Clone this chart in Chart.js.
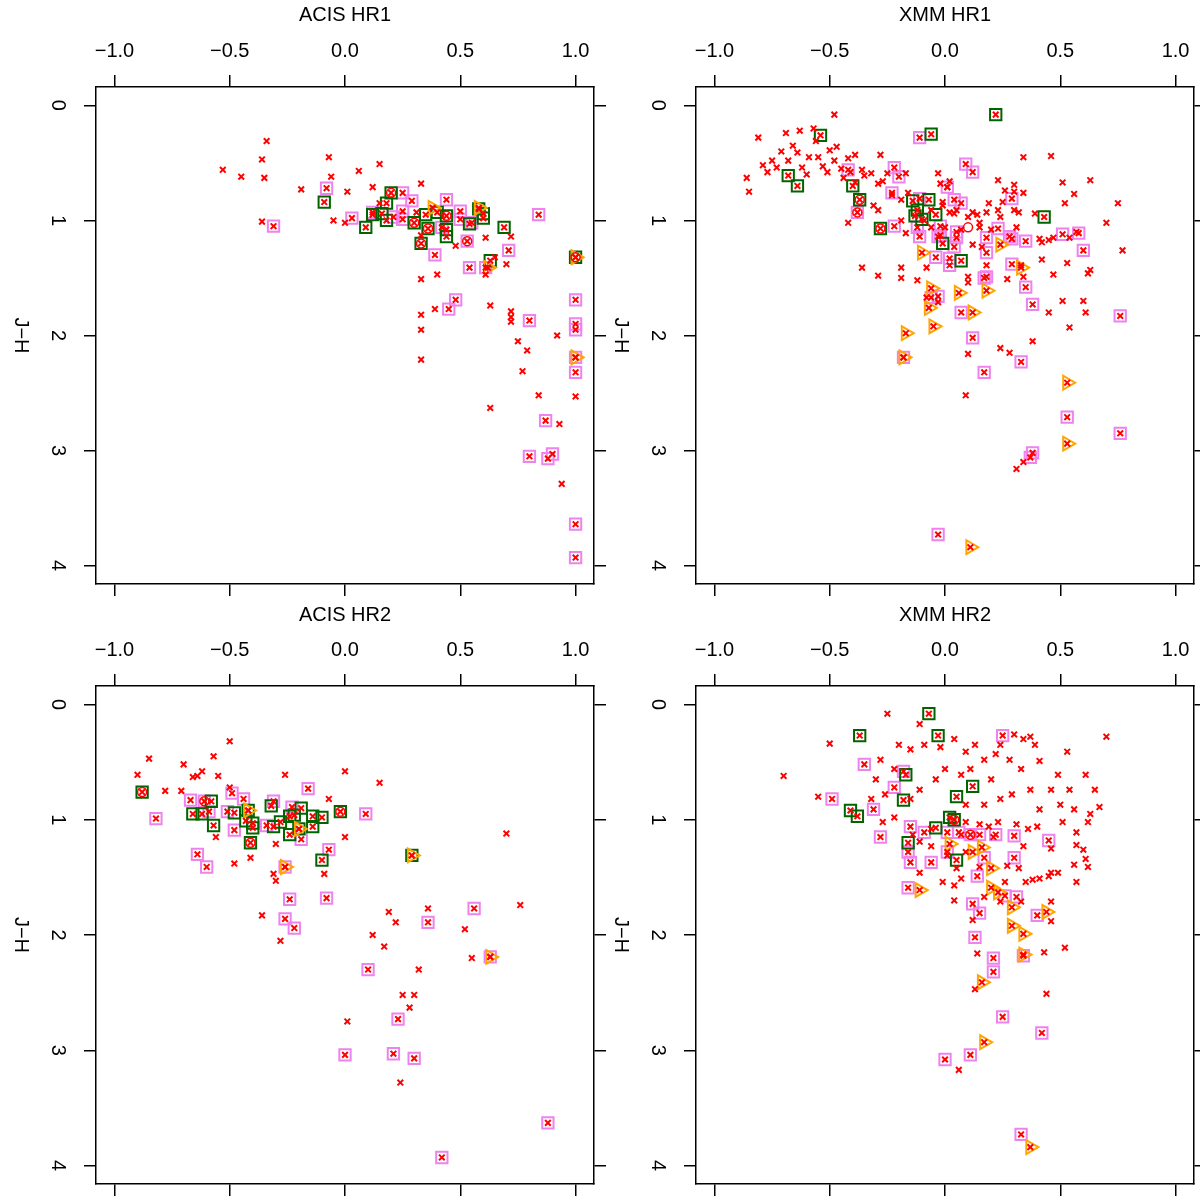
<!DOCTYPE html>
<html>
<head>
<meta charset="utf-8">
<script src="https://cdn.jsdelivr.net/npm/chart.js@4.4.0/dist/chart.umd.min.js"></script>
<style>
  body { margin: 0; width: 1200px; height: 1200px; overflow: hidden; background: #fff; position: relative; }
  canvas { position: absolute; }
</style>
</head>
<body>
<canvas id="acis1" width="620" height="620" style="left:0;top:0"></canvas>
<canvas id="xmm1" width="620" height="620" style="left:600px;top:0"></canvas>
<canvas id="acis2" width="620" height="620" style="left:0;top:600px"></canvas>
<canvas id="xmm2" width="620" height="620" style="left:600px;top:600px"></canvas>
<script>
// tick values
const xTicks = [-1.0, -0.5, 0.0, 0.5, 1.0];
const yTicks = [0, 1, 2, 3, 4];

// ---- ACIS HR1 : [HR, J-H] ----
const acis1Plain = [[-0.34,0.31],[-0.36,0.47],[-0.35,0.63],[-0.53,0.56],[-0.45,0.62],[-0.36,1.01],[-0.19,0.73],
  [-0.07,0.45],[-0.06,0.62],[0.01,0.75],[-0.05,1.00],[0.00,1.02],[0.06,0.57],[0.15,0.51],[0.12,0.71],[0.33,0.68],
  [0.15,0.85],[0.31,0.93],[0.33,1.13],[0.48,1.22],[0.61,1.15],[0.72,1.14],[0.65,1.32],[0.70,1.38],[0.40,1.47],
  [0.33,1.51],[0.61,1.47],[0.39,1.77],[0.63,1.74],[0.72,1.79],[0.72,1.84],[0.72,1.88],[0.33,1.82],[0.33,1.95],
  [0.92,2.00],[0.75,2.05],[0.79,2.13],[0.33,2.21],[0.77,2.31],[0.84,2.52],[1.00,2.53],[0.63,2.63],[0.93,2.77],[0.94,3.29]];
const acis1Violet = [[-0.08,0.72],[-0.31,1.05],[0.03,0.98],[0.44,0.82],[0.84,0.95],[0.71,1.26],[0.39,1.30],[0.54,1.41],
  [0.50,0.92],[0.50,0.99],[0.25,0.76],[0.29,0.83],[0.25,0.92],[0.25,0.99],[0.12,0.93],[0.21,0.97],[0.42,1.06],
  [0.53,1.18],[0.55,1.02],[0.61,1.41],[0.48,1.69],[0.45,1.77],[0.80,1.87],[1.00,1.69],[1.00,1.90],[1.00,1.95],
  [1.00,2.19],[1.00,2.32],[0.87,2.74],[0.80,3.05],[0.88,3.07],[0.90,3.03],[1.00,3.64],[1.00,3.93]];
const acis1Green = [[-0.09,0.84],[0.20,0.76],[0.18,0.85],[0.09,1.06],[0.16,0.94],[0.18,1.00],[0.12,0.95],[0.30,1.02],
  [0.36,1.07],[0.33,1.20],[0.35,0.95],[0.40,0.93],[0.44,0.96],[0.44,1.08],[0.44,1.14],[0.54,1.03],[0.58,0.90],
  [0.60,0.94],[0.60,0.98],[0.69,1.06],[0.63,1.35],[1.00,1.32]];
const acis1Orange = [[0.38,0.89],[0.58,0.89],[0.62,1.41],[1.00,2.19],[1.00,1.32]];
const acis1Circle = [[0.20,0.76],[0.30,1.02],[0.36,1.07],[0.33,1.20],[0.44,0.96],[1.00,1.32],[0.53,1.18]];

// ---- XMM HR1 ----
const xmm1Plain = [[-0.86,0.63],[-0.85,0.75],[-0.81,0.28],[-0.79,0.52],[-0.77,0.58],[-0.75,0.48],[-0.73,0.54],[-0.71,0.40],
  [-0.69,0.24],[-0.68,0.48],[-0.66,0.35],[-0.64,0.41],[-0.63,0.22],[-0.62,0.54],[-0.60,0.60],[-0.59,0.45],[-0.57,0.20],
  [-0.56,0.31],[-0.55,0.45],[-0.53,0.53],[-0.51,0.58],[-0.50,0.39],[-0.48,0.48],[-0.48,0.08],[-0.47,0.36],[-0.45,0.55],
  [-0.44,0.63],[-0.42,0.46],[-0.41,0.58],[-0.39,0.67],[-0.36,0.56],[-0.35,0.61],[-0.32,0.59],[-0.29,0.68],[-0.27,0.66],
  [-0.25,0.59],[-0.39,0.43],[-0.28,0.43],[-0.17,0.59],[-0.19,0.82],[-0.23,0.78],[-0.16,0.76],[-0.42,1.02],[-0.29,0.91],
  [-0.31,0.87],[-0.03,0.59],[-0.02,0.68],[0.02,0.66],[0.01,0.71],[0.23,0.65],[0.30,0.69],[0.30,0.75],[0.26,0.74],
  [0.34,0.76],[0.25,0.84],[0.30,0.91],[0.32,0.93],[0.23,0.91],[0.24,0.97],[0.19,0.85],[0.18,0.93],[0.12,0.93],
  [0.10,0.97],[0.14,0.95],[0.15,1.02],[0.05,0.91],[0.04,0.94],[0.02,0.93],[-0.01,0.87],[-0.01,0.84],[-0.06,0.91],
  [-0.09,1.00],[-0.19,1.00],[-0.17,1.11],[-0.06,1.06],[0.00,1.06],[0.07,1.08],[0.15,1.06],[0.20,1.08],[0.31,1.06],
  [0.39,0.94],[0.41,1.16],[0.42,1.19],[0.45,1.17],[0.47,1.15],[0.56,0.77],[0.54,1.15],[0.57,1.10],[0.51,0.67],
  [0.52,0.85],[0.53,1.37],[0.42,1.34],[0.33,1.39],[0.34,1.49],[0.27,1.51],[0.18,1.39],[0.12,1.21],[0.16,1.23],
  [0.10,1.49],[0.10,1.54],[-0.08,1.41],[-0.12,1.52],[-0.19,1.41],[-0.19,1.50],[-0.29,1.48],[-0.36,1.41],[0.62,1.46],
  [0.34,0.45],[0.45,1.80],[0.38,2.05],[0.24,2.11],[0.28,2.15],[0.10,2.16],[0.09,2.52],[-0.03,1.71],[-0.08,1.67],
  [0.46,0.44],[0.63,0.65],[0.75,0.85],[0.70,1.02],[0.77,1.26],[0.63,1.43],[0.60,1.70],[0.61,1.80],[0.51,1.70],
  [0.54,1.93],[0.47,1.47],[0.31,3.16],[0.34,3.10]];
const xmm1Violet = [[-0.42,0.56],[-0.22,0.54],[-0.20,0.62],[0.09,0.51],[0.12,0.58],[0.01,0.71],[-0.38,0.93],[-0.23,0.76],
  [-0.11,0.81],[0.04,0.82],[0.07,0.85],[-0.22,1.05],[-0.12,1.06],[-0.11,1.14],[-0.02,1.05],[-0.02,1.13],[-0.03,1.14],
  [0.05,1.10],[0.05,1.15],[0.04,1.23],[0.23,1.07],[0.29,0.81],[0.18,1.15],[0.28,1.14],[0.29,1.16],[0.35,1.18],
  [0.51,1.12],[0.58,1.11],[0.60,1.26],[-0.04,1.32],[0.02,1.33],[0.02,1.39],[0.18,1.28],[0.17,1.50],[0.29,1.38],
  [0.35,1.58],[-0.11,0.28],[-0.03,1.66],[-0.06,1.67],[0.07,1.80],[0.18,1.49],[0.38,1.73],[0.12,2.02],[0.33,2.23],
  [0.17,2.32],[-0.18,2.19],[0.76,1.83],[0.76,2.85],[0.53,2.71],[0.37,3.06],[0.38,3.02],[-0.03,3.73]];
const xmm1Green = [[0.22,0.08],[-0.54,0.26],[-0.06,0.25],[-0.68,0.61],[-0.64,0.70],[-0.40,0.70],[-0.37,0.82],[-0.28,1.07],
  [-0.14,0.83],[-0.07,0.82],[-0.12,0.91],[-0.13,0.96],[-0.10,0.99],[-0.04,0.95],[-0.01,1.20],[0.07,1.35],[0.43,0.97]];
const xmm1Orange = [[-0.06,1.59],[0.06,1.63],[0.18,1.61],[-0.07,1.76],[0.12,1.80],[-0.05,1.92],[-0.17,1.98],[-0.18,2.19],
  [-0.10,1.28],[0.24,1.21],[0.33,1.41],[0.53,2.41],[0.53,2.94],[0.11,3.84]];
const xmm1Circle = [[-0.38,0.93],[-0.37,0.82],[-0.28,1.07],[0.10,1.06]];

// ---- ACIS HR2 ----
const acis2Plain = [[-0.70,0.52],[-0.62,0.58],[-0.64,0.62],[-0.66,0.63],[-0.55,0.62],[-0.26,0.61],[0.00,0.58],[-0.78,0.75],
  [-0.71,0.75],[-0.50,0.72],[-0.07,0.82],[0.00,1.15],[-0.56,1.15],[-0.30,1.21],[-0.41,1.33],[-0.48,1.38],[-0.09,1.47],
  [-0.31,1.47],[-0.90,0.61],[-0.85,0.47],[-0.50,0.32],[-0.57,0.45],[-0.30,1.53],[-0.36,1.83],[-0.28,2.05],[0.15,0.68],
  [0.12,2.00],[0.19,1.80],[0.22,1.89],[0.17,2.10],[0.36,1.77],[0.32,2.30],[0.25,2.52],[0.30,2.52],[0.28,2.63],
  [0.01,2.75],[0.24,3.28],[0.52,1.95],[0.55,2.20],[0.76,1.74],[0.70,1.12]];
const acis2Violet = [[-0.67,0.83],[-0.82,0.99],[-0.61,0.84],[-0.59,0.93],[-0.49,0.77],[-0.44,0.82],[-0.51,0.93],[-0.48,1.09],
  [-0.31,0.84],[-0.16,0.73],[-0.34,1.05],[-0.23,0.89],[-0.19,1.17],[-0.07,1.26],[-0.64,1.30],[-0.60,1.41],[-0.26,1.41],
  [-0.24,1.69],[-0.26,1.86],[-0.22,1.94],[-0.08,1.68],[0.09,0.95],[0.10,2.30],[0.36,1.89],[0.23,2.73],[0.00,3.04],
  [0.21,3.03],[0.30,3.07],[0.42,3.93],[0.56,1.77],[0.63,2.19],[0.88,3.63]];
const acis2Green = [[-0.88,0.76],[-0.58,0.84],[-0.66,0.95],[-0.62,0.95],[-0.57,1.05],[-0.48,0.94],[-0.42,0.92],[-0.43,1.01],
  [-0.40,1.03],[-0.40,1.07],[-0.41,1.20],[-0.32,0.88],[-0.31,1.06],[-0.28,1.02],[-0.24,0.97],[-0.22,0.96],[-0.24,1.13],
  [-0.20,1.08],[-0.19,0.90],[-0.14,0.97],[-0.10,0.98],[-0.14,1.06],[-0.02,0.93],[-0.10,1.35],[0.29,1.31]];
const acis2Orange = [[-0.42,0.92],[-0.20,1.08],[-0.26,1.41],[0.29,1.31],[0.63,2.19]];
const acis2Circle = [[-0.88,0.76],[-0.61,0.84],[-0.41,1.20],[-0.02,0.93]];

// ---- XMM HR2 ----
const xmm2Plain = [[-0.11,1.46],[-0.01,1.54],[0.04,1.57],[0.07,1.51],[0.27,1.40],[0.32,1.42],[0.26,1.54],[0.35,1.54],
  [0.38,1.52],[0.41,1.51],[0.45,1.49],[0.46,1.46],[0.49,1.46],[0.57,1.54],[0.56,1.39],[0.62,1.41],[0.46,1.71],[0.46,1.88],
  [0.04,1.70],[0.12,1.87],[0.24,1.71],[0.33,1.71],[0.52,2.11],[0.43,2.15],[0.14,2.16],[0.57,1.11],[0.57,1.22],[0.46,1.25],
  [0.51,1.02],[0.62,1.02],[0.40,1.06],[0.36,1.08],[0.31,1.04],[0.23,1.02],[0.19,1.06],[0.15,1.04],[0.09,1.02],[-0.11,1.19],
  [-0.06,1.23],[0.34,1.23],[0.05,1.42],[0.15,1.41],[0.17,1.67],[0.01,1.31],[0.09,1.28],[0.07,1.13],[0.21,1.15],[-0.14,1.13],
  [-0.06,1.08],[-0.25,0.08],[-0.11,0.17],[-0.50,0.34],[-0.70,0.62],[-0.55,0.80],[-0.27,1.02],[0.24,0.35],[0.30,0.26],
  [0.34,0.30],[0.37,0.28],[0.39,0.35],[0.53,0.41],[0.70,0.28],[0.49,0.61],[0.61,0.61],[0.54,0.74],[-0.20,0.35],[-0.15,0.39],
  [-0.09,0.35],[-0.02,0.37],[0.04,0.30],[0.09,0.41],[0.13,0.35],[0.17,0.48],[0.22,0.43],[0.28,0.48],[0.33,0.56],[0.41,0.49],
  [0.46,0.74],[0.37,0.74],[0.29,0.78],[0.20,0.65],[0.11,0.56],[0.07,0.61],[0.00,0.56],[-0.04,0.65],[-0.11,0.74],[-0.15,0.82],
  [-0.26,0.78],[-0.30,0.65],[-0.28,0.48],[-0.22,0.56],[-0.32,0.82],[-0.22,0.98],[0.24,0.82],[0.17,0.87],[0.09,0.87],
  [0.41,0.91],[0.50,0.87],[0.56,0.91],[0.63,0.95],[0.60,1.26],[0.61,1.34],[0.67,0.89],[0.65,0.74],[0.44,2.51],[0.06,3.17],
  [0.13,2.47]];
const xmm2Violet = [[0.25,0.27],[-0.49,0.82],[-0.35,0.52],[-0.31,0.91],[-0.28,1.15],[-0.22,0.72],[-0.18,0.58],[-0.16,1.59],
  [-0.15,1.06],[-0.09,1.11],[0.01,1.11],[0.06,1.11],[0.11,1.13],[0.15,1.13],[0.22,1.13],[0.30,1.14],[0.45,1.18],[-0.16,1.28],
  [0.01,1.28],[-0.15,1.37],[-0.06,1.37],[0.17,1.33],[0.30,1.33],[0.14,1.49],[0.26,1.66],[0.31,1.67],[0.12,1.73],[0.15,1.81],
  [0.40,1.83],[0.13,2.02],[0.21,2.20],[0.34,2.18],[0.21,2.32],[0.25,2.71],[0.11,3.04],[0.00,3.08],[0.33,3.73],[0.42,2.85]];
const xmm2Green = [[-0.07,0.08],[-0.03,0.27],[-0.37,0.27],[-0.41,0.92],[-0.38,0.97],[-0.17,0.61],[-0.18,0.83],[-0.16,1.20],
  [0.02,0.98],[0.05,0.80],[0.05,1.35],[-0.04,1.07],[0.04,1.00],[0.12,0.71]];
const xmm2Orange = [[-0.11,1.61],[0.12,1.28],[0.16,1.24],[0.20,1.42],[0.02,1.21],[0.20,1.59],[0.23,1.63],[0.29,1.76],
  [0.29,1.92],[0.34,1.99],[0.44,1.80],[0.34,2.17],[0.16,2.41],[0.17,2.93],[0.37,3.84]];
const xmm2Circle = [[0.11,1.13],[0.04,1.00]];

const fontFamily = '"Liberation Sans", Arial, sans-serif';

function pts(arr) {
  return arr.map(p => ({ x: p[0], y: p[1] }));
}

function fmt(v) {
  return (v < 0 ? '\u2212' : '') + Math.abs(v).toFixed(1);
}

// y tick labels and the J-H label are drawn turned a quarter turn clockwise
const yLabelPlugin = {
  id: 'yLabels',
  afterDraw(chart) {
    const { ctx, chartArea } = chart;
    const y = chart.scales.y;
    ctx.save();
    ctx.font = '20px ' + fontFamily;
    ctx.fillStyle = '#000';
    ctx.textAlign = 'center';
    ctx.textBaseline = 'middle';
    yTicks.forEach(v => {
      ctx.save();
      ctx.translate(58, y.getPixelForValue(v));
      ctx.rotate(Math.PI / 2);
      ctx.fillText(String(v), 0, 0);
      ctx.restore();
    });
    ctx.translate(21, (chartArea.top + chartArea.bottom) / 2);
    ctx.rotate(Math.PI / 2);
    ctx.fillText('J\u2212H', 0, 0);
    ctx.restore();
  }
};

function axisCommon() {
  return {
    grid: { drawOnChartArea: false, drawTicks: true, tickLength: 12, color: '#000', lineWidth: 1.5 },
    border: { display: true, color: '#000', width: 1.5 }
  };
}

function makePanel(id, title, plain, violet, green, orange, circle, topH) {
  const allRed = plain.concat(violet, green, orange);
  new Chart(document.getElementById(id), {
    type: 'scatter',
    data: {
      datasets: [
        { data: pts(allRed), pointStyle: 'crossRot', radius: 4, borderColor: '#ff0000', borderWidth: 2, backgroundColor: '#ff0000' },
        { data: pts(circle), pointStyle: 'circle', radius: 4.5, borderColor: '#ff0000', borderWidth: 1.5, backgroundColor: 'rgba(0,0,0,0)' },
        { data: pts(orange), pointStyle: 'triangle', rotation: 90, radius: 8, borderColor: '#ffa500', borderWidth: 2, backgroundColor: 'rgba(0,0,0,0)' },
        { data: pts(green), pointStyle: 'rect', radius: 8, borderColor: '#006400', borderWidth: 2, backgroundColor: 'rgba(0,0,0,0)' },
        { data: pts(violet), pointStyle: 'rect', radius: 8, borderColor: '#ee82ee', borderWidth: 2, backgroundColor: 'rgba(0,0,0,0)' }
      ]
    },
    options: {
      responsive: false,
      animation: false,
      events: [],
      layout: { padding: 0 },
      plugins: { legend: { display: false }, tooltip: { enabled: false } },
      scales: {
        x: Object.assign(axisCommon(), {
          type: 'linear', position: 'top', min: -1.08, max: 1.08,
          ticks: { stepSize: 0.5, includeBounds: false, autoSkip: false, maxRotation: 0, padding: 12,
                   color: '#000', font: { size: 20, family: fontFamily }, callback: v => fmt(v) },
          title: { display: true, text: title, color: '#000', font: { size: 20, family: fontFamily }, padding: { top: 3, bottom: 0 } },
          afterFit: s => { s.height = topH; }
        }),
        x2: Object.assign(axisCommon(), {
          type: 'linear', position: 'bottom', min: -1.08, max: 1.08,
          ticks: { display: false, stepSize: 0.5, includeBounds: false },
          afterFit: s => { s.height = 36; }
        }),
        y: Object.assign(axisCommon(), {
          type: 'linear', position: 'left', reverse: true, min: -0.16, max: 4.16,
          ticks: { display: false, stepSize: 1, includeBounds: false },
          afterFit: s => { s.width = 96; }
        }),
        y2: Object.assign(axisCommon(), {
          type: 'linear', position: 'right', reverse: true, min: -0.16, max: 4.16,
          ticks: { display: false, stepSize: 1, includeBounds: false },
          afterFit: s => { s.width = 26; }
        })
      }
    },
    plugins: [yLabelPlugin]
  });
}

makePanel('acis1', 'ACIS HR1', acis1Plain, acis1Violet, acis1Green, acis1Orange, acis1Circle, 87);
makePanel('xmm1', 'XMM HR1', xmm1Plain, xmm1Violet, xmm1Green, xmm1Orange, xmm1Circle, 87);
makePanel('acis2', 'ACIS HR2', acis2Plain, acis2Violet, acis2Green, acis2Orange, acis2Circle, 86);
makePanel('xmm2', 'XMM HR2', xmm2Plain, xmm2Violet, xmm2Green, xmm2Orange, xmm2Circle, 86);
</script>
</body>
</html>
